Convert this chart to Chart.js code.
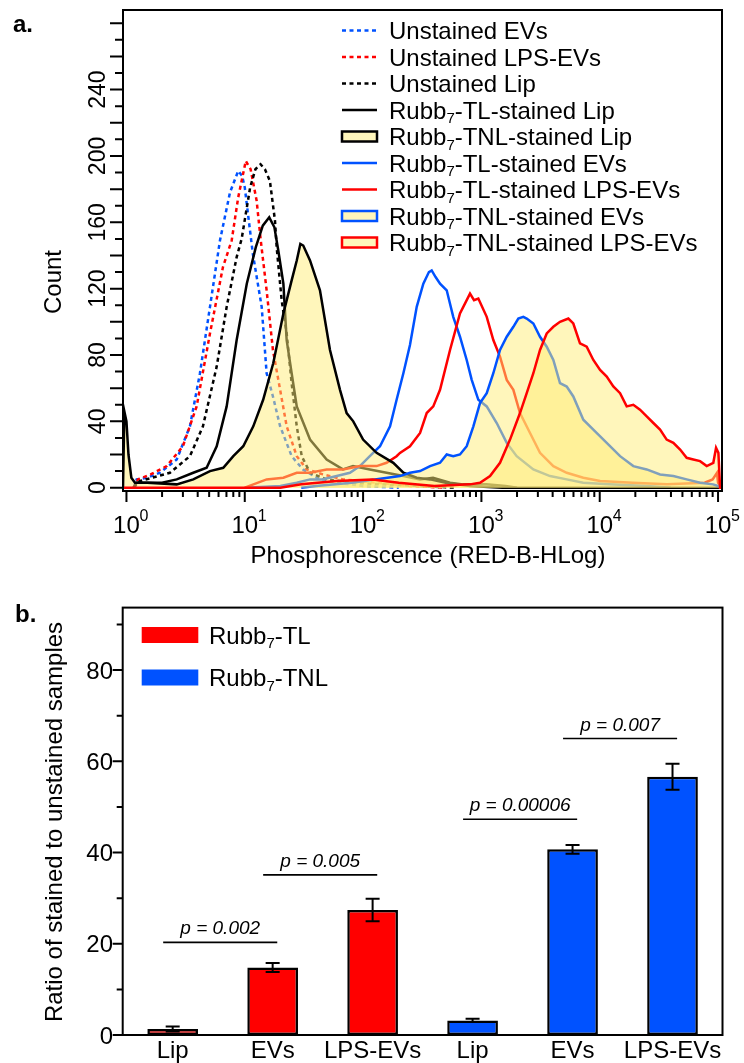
<!DOCTYPE html>
<html lang="en">
<head>
<meta charset="UTF-8">
<title>Rubb7 staining of Lip / EVs / LPS-EVs</title>
<script src="https://cdn.jsdelivr.net/npm/chart.js@4.4.0/dist/chart.umd.min.js"></script>
<style>
*{margin:0;padding:0;box-sizing:border-box}
body{background:#fff;width:744px;height:1063px;overflow:hidden;position:relative}
.cw{position:absolute;left:0;width:744px}
#cwA{top:0;height:580px}
#cwB{top:580px;height:483px}
</style>
</head>
<body>
<div class="cw" id="cwA"><canvas id="histChart"></canvas></div>
<div class="cw" id="cwB"><canvas id="barChart"></canvas></div>
<script>
const FONT = "'Liberation Sans', Arial, Helvetica, sans-serif";
const BLUE = "#0052ff", RED = "#ff0000", BLACK = "#000000";
const YELLOW_FILL = "rgba(255,238,120,0.5)";

// ---- panel a: histogram traces, [phosphorescence, count] ----
const unstainedEVs = [[1.15,0],[1.22,5],[1.5,6],[1.92,9],[2.66,17],[3.44,37],[4.18,69],[5.08,109],[6.17,149],[7.5,178],[8.8,191],[9.5,188],[10.0,181],[11.7,141],[13.9,109],[15.3,69],[17.3,55],[19.9,37],[24.9,19],[31,11],[43,5],[60,3],[100,1],[200,0]];
const unstainedLPS = [[1.15,0],[1.25,5],[1.6,8],[2.19,13],[3.0,25],[3.92,49],[5.08,93],[6.54,133],[7.75,149],[8.8,175],[10.2,197],[11.2,192],[12.6,173],[13.6,150],[15.3,119],[17.3,83],[19.9,59],[22.6,37],[27.5,19],[33.4,11],[45.8,8],[67.6,5],[130,3],[250,1],[500,0]];
const unstainedLip = [[1.15,0],[1.3,4],[2.33,9],[3.44,19],[4.43,37],[5.79,73],[7.03,109],[8.54,139],[9.41,150],[11.1,181],[12.3,192],[13.6,195],[14.8,192],[16.3,185],[18.0,161],[18.6,145],[20.5,113],[22.6,93],[24.9,63],[27.5,37],[30.3,19],[35.6,9],[49.2,5],[80,3],[150,2],[300,1],[600,0]];
const tlLip = [[1.15,0],[1.22,3],[2.0,3],[2.66,5],[3.67,9],[4.76,12],[5.79,25],[7.03,49],[8.54,89],[10.4,123],[12.4,145],[14.2,158],[16.1,163],[17.8,157],[19.2,143],[21.2,123],[22.6,89],[24.9,69],[27.5,49],[35.6,29],[49.2,17],[67.6,11],[82.2,13],[114,11],[158,9],[219,7],[303,5],[390,6],[543,3],[700,2],[1100,2],[1600,1],[2000,0]];
const tnlLip = [[0.935,0],[0.96,46],[1.0,40],[1.04,20],[1.1,6],[1.18,3],[1.5,3],[2.66,2],[3.67,5],[5.08,10],[6.58,12],[8.0,19],[9.71,25],[11.8,37],[14.3,53],[17.4,75],[21.2,105],[24.9,125],[27.5,137],[29.5,147],[31.2,146],[35.6,137],[43.2,119],[52.5,83],[63.8,59],[72.6,45],[82.6,40],[100,29],[130,21],[180,15],[219,9],[284,6],[368,5],[500,3],[800,1],[1500,0],[108000,0]];
const tlEVs = [[10,0],[20,1],[27.5,3],[35.6,5],[45,5],[59.8,7],[77.4,9],[94,13],[114,19],[139,25],[169,37],[192,53],[219,69],[249,86],[284,109],[323,123],[360,130],[380,131],[410,127],[447,123],[509,119],[578,103],[659,91],[751,77],[828,65],[942,53],[1109,49],[1347,39],[1637,27],[1987,19],[2748,11],[3802,7],[5260,5],[7240,3],[12000,2],[25000,1],[40000,0]];
const tlLPS = [[10,0],[15.3,5],[21.2,6],[27.5,9],[35.6,9],[49.2,11],[67.6,11],[94,13],[130,13],[158,15],[192,19],[205,21],[249,25],[303,33],[345,45],[392,49],[447,59],[543,83],[659,105],[801,117],[866,113],[942,114],[1109,103],[1261,89],[1436,79],[1637,65],[1862,59],[2119,45],[2576,33],[3128,21],[4055,13],[5260,9],[7268,6],[10070,4],[19000,3],[37000,2],[77000,3],[90000,5],[98000,9],[100000,3],[108000,0]];
const tnlEVs = [[30,0],[40,1],[80,3],[126,5],[205,7],[249,9],[303,10],[368,13],[447,15],[509,20],[578,19],[659,20],[751,25],[855,37],[973,51],[1109,57],[1261,69],[1436,83],[1637,91],[1862,97],[2051,102],[2261,103],[2415,102],[2748,99],[3128,91],[3565,85],[4055,77],[4615,63],[5260,61],[5980,55],[7268,41],[8830,35],[11460,27],[14860,19],[19230,13],[24950,11],[32360,8],[41900,7],[54300,5],[70500,3],[90800,2],[100000,1],[108000,0]];
const tnlLPS = [[0.935,0],[20,0],[30,2],[60,4],[120,5],[200,3],[400,1],[800,2],[973,3],[1183,7],[1436,15],[1745,29],[2119,45],[2415,57],[2748,69],[3128,83],[3565,93],[4055,97],[4615,100],[5430,102],[5980,99],[6810,87],[7760,85],[8830,77],[10070,71],[11460,67],[13030,61],[14860,57],[16900,49],[19230,50],[21900,47],[24950,43],[28400,39],[32360,35],[36800,29],[41900,27],[47800,23],[54300,18],[61800,17],[70500,16],[80200,13],[91200,15],[96200,24],[100700,21],[104000,0],[108000,0]];

const countTicks = [0, 40, 80, 120, 160, 200, 240];
const decades = [0, 1, 2, 3, 4, 5];

// legend order = list order; z = drawing order (1 = on top)
const traces = [
  { label: "Unstained EVs", pts: unstainedEVs, color: BLUE, kind: "dot", z: 9 },
  { label: "Unstained LPS-EVs", pts: unstainedLPS, color: RED, kind: "dot", z: 8 },
  { label: "Unstained Lip", pts: unstainedLip, color: BLACK, kind: "dot", z: 7 },
  { label: "Rubb_7-TL-stained Lip", pts: tlLip, color: BLACK, kind: "line", z: 6 },
  { label: "Rubb_7-TNL-stained Lip", pts: tnlLip, color: BLACK, kind: "fill", z: 3 },
  { label: "Rubb_7-TL-stained EVs", pts: tlEVs, color: BLUE, kind: "line", z: 5 },
  { label: "Rubb_7-TL-stained LPS-EVs", pts: tlLPS, color: RED, kind: "line", z: 4 },
  { label: "Rubb_7-TNL-stained EVs", pts: tnlEVs, color: BLUE, kind: "fill", z: 2 },
  { label: "Rubb_7-TNL-stained LPS-EVs", pts: tnlLPS, color: RED, kind: "fill", z: 1 }
];

// ---- panel b: ratio of stained to unstained ----
const sampleNames = ["Lip", "EVs", "LPS-EVs", "Lip", "EVs", "LPS-EVs"];
const tlMean = [1.3, 14.8, 27.4];
const tlErr = [0.55, 1.0, 2.45];
const tnlMean = [3.2, 40.7, 56.6];
const tnlErr = [0.35, 0.95, 2.85];
const ratioTicks = [0, 20, 40, 60, 80];
const pPairs = [[0, 1], [1, 2], [3, 4], [4, 5]];
const pLevels = [20.3, 35.1, 47.3, 65];
const pValues = ["0.002", "0.005", "0.00006", "0.007"];

// text with "_7" style subscripts
function richText(ctx, str, x, y, size, align) {
  const parts = str.split(/_(\d)/);
  let w = 0;
  parts.forEach((t, i) => {
    ctx.font = (i % 2 ? Math.round(size * 0.62) : size) + "px " + FONT;
    w += ctx.measureText(t).width;
  });
  if (align === "center") x -= w / 2;
  ctx.textAlign = "left";
  parts.forEach((t, i) => {
    const sub = i % 2 === 1;
    ctx.font = (sub ? Math.round(size * 0.62) : size) + "px " + FONT;
    ctx.fillText(t, x, sub ? y + size * 0.2 : y);
    x += ctx.measureText(t).width;
  });
}

const histAxes = {
  id: "histAxes",
  afterDraw(chart) {
    const { ctx, chartArea: a, scales: { x, y } } = chart;
    ctx.save();
    ctx.strokeStyle = "#000";
    ctx.fillStyle = "#000";
    ctx.lineWidth = 2;
    ctx.strokeRect(a.left, a.top, a.right - a.left, a.bottom - a.top);
    // y ticks: minor every 10, long every 20, labels every 40
    ctx.beginPath();
    for (let v = 0; v <= 280; v += 10) {
      const py = y.getPixelForValue(v);
      ctx.moveTo(a.left, py);
      ctx.lineTo(a.left - (v % 20 === 0 ? 13 : 8), py);
    }
    // x ticks: decades + 2..9
    decades.forEach(d => {
      for (let m = 1; m <= 9; m++) {
        const v = m * Math.pow(10, d);
        if (v > x.max) break;
        const px = x.getPixelForValue(v);
        ctx.moveTo(px, a.bottom);
        ctx.lineTo(px, a.bottom + (m === 1 ? 11 : 6));
      }
    });
    ctx.stroke();
    // rotated count labels
    ctx.font = "23px " + FONT;
    ctx.textAlign = "center";
    ctx.textBaseline = "alphabetic";
    countTicks.forEach(v => {
      ctx.save();
      ctx.translate(105, y.getPixelForValue(v));
      ctx.rotate(-Math.PI / 2);
      ctx.fillText(String(v), 0, 0);
      ctx.restore();
    });
    // decade labels 10^n
    decades.forEach(d => {
      const px = x.getPixelForValue(Math.pow(10, d));
      ctx.font = "24px " + FONT;
      ctx.textAlign = "center";
      ctx.fillText("10", px, 533);
      ctx.font = "16px " + FONT;
      ctx.textAlign = "left";
      ctx.fillText(String(d), px + 13, 521);
    });
    // axis titles
    ctx.font = "24px " + FONT;
    ctx.textAlign = "center";
    ctx.fillText("Phosphorescence (RED-B-HLog)", 428, 563);
    ctx.save();
    ctx.translate(61, 282);
    ctx.rotate(-Math.PI / 2);
    ctx.fillText("Count", 0, 0);
    ctx.restore();
    ctx.font = "bold 24px " + FONT;
    ctx.textAlign = "left";
    ctx.fillText("a.", 13, 32);
    // legend
    traces.forEach((t, i) => {
      const cy = 30.5 + 26.5 * i;
      const x0 = 342, x1 = 377;
      ctx.strokeStyle = t.color;
      ctx.lineWidth = 2.5;
      if (t.kind === "fill") {
        ctx.fillStyle = "#fff6bb";
        ctx.fillRect(x0, cy - 5, x1 - x0, 10);
        ctx.strokeRect(x0, cy - 5, x1 - x0, 10);
      } else {
        ctx.setLineDash(t.kind === "dot" ? [4, 3.5] : []);
        ctx.beginPath();
        ctx.moveTo(x0, cy);
        ctx.lineTo(x1, cy);
        ctx.stroke();
        ctx.setLineDash([]);
      }
      ctx.fillStyle = "#000";
      richText(ctx, t.label, 389, cy + 8.5, 24);
    });
    ctx.restore();
  }
};

new Chart(document.getElementById("histChart"), {
  type: "line",
  data: {
    datasets: traces.map(t => ({
      label: t.label.replace("_", ""),
      data: t.pts.map(([x, y]) => ({ x, y })),
      borderColor: t.color,
      borderWidth: 2.5,
      borderDash: t.kind === "dot" ? [4, 3.5] : [],
      backgroundColor: YELLOW_FILL,
      fill: t.kind === "fill" ? "origin" : false,
      pointRadius: 0,
      tension: 0,
      order: t.z
    }))
  },
  options: {
    responsive: true, maintainAspectRatio: false,
    animation: false, devicePixelRatio: 1,
    layout: { padding: { left: 0, right: 22, top: 10, bottom: 0 } },
    plugins: { legend: { display: false }, tooltip: { enabled: false } },
    scales: {
      x: {
        type: "logarithmic", min: 0.935, max: 108000,
        grid: { display: false }, border: { display: false }, ticks: { display: false },
        afterFit: s => { s.height = 89; }
      },
      y: {
        type: "linear", min: -2, max: 288,
        grid: { display: false }, border: { display: false }, ticks: { display: false },
        afterFit: s => { s.width = 123; }
      }
    }
  },
  plugins: [histAxes]
});

const barDecor = {
  id: "barDecor",
  afterDraw(chart) {
    const { ctx, chartArea: a, scales: { x, y } } = chart;
    ctx.save();
    ctx.strokeStyle = "#000";
    ctx.fillStyle = "#000";
    ctx.lineWidth = 2;
    ctx.strokeRect(a.left, a.top, a.right - a.left, a.bottom - a.top);
    ctx.beginPath();
    for (let v = 0; v <= 90; v += 10) {
      const py = y.getPixelForValue(v);
      ctx.moveTo(a.left, py);
      ctx.lineTo(a.left - (v % 20 === 0 ? 10 : 6), py);
    }
    ctx.stroke();
    ctx.font = "24px " + FONT;
    ctx.textAlign = "right";
    ratioTicks.forEach(v => ctx.fillText(String(v), 113, y.getPixelForValue(v) + 8.5));
    ctx.textAlign = "center";
    sampleNames.forEach((n, i) => ctx.fillText(n, x.getPixelForValue(i), a.bottom + 23));
    // error bars
    [[0, tlMean, tlErr], [1, tnlMean, tnlErr]].forEach(([di, means, errs]) => {
      const meta = chart.getDatasetMeta(di);
      means.forEach((m, j) => {
        const bar = meta.data[j + di * 3];
        const hi = y.getPixelForValue(m + errs[j]), lo = y.getPixelForValue(m - errs[j]);
        ctx.beginPath();
        ctx.moveTo(bar.x, hi); ctx.lineTo(bar.x, lo);
        ctx.moveTo(bar.x - 7, hi); ctx.lineTo(bar.x + 7, hi);
        ctx.moveTo(bar.x - 7, lo); ctx.lineTo(bar.x + 7, lo);
        ctx.stroke();
      });
    });
    // significance lines
    ctx.lineWidth = 1.7;
    pPairs.forEach(([i, j], k) => {
      const x0 = x.getPixelForValue(i) - 9.5, x1 = x.getPixelForValue(j) + 4.6;
      const py = y.getPixelForValue(pLevels[k]);
      ctx.beginPath();
      ctx.moveTo(x0, py); ctx.lineTo(x1, py);
      ctx.stroke();
      ctx.font = "italic 19px " + FONT;
      ctx.textAlign = "center";
      ctx.fillText("p = " + pValues[k], (x0 + x1) / 2, py - 8);
    });
    // legend
    [["Rubb_7-TL", RED], ["Rubb_7-TNL", BLUE]].forEach(([lab, col], k) => {
      const cy = 55 + 42.5 * k;
      ctx.fillStyle = col;
      ctx.fillRect(141.7, cy - 8, 56.6, 16);
      ctx.fillStyle = "#000";
      richText(ctx, lab, 209, cy + 8.5, 24);
    });
    // titles
    ctx.font = "24px " + FONT;
    ctx.textAlign = "center";
    ctx.save();
    ctx.translate(62, 242);
    ctx.rotate(-Math.PI / 2);
    ctx.fillText("Ratio of stained to unstained samples", 0, 0);
    ctx.restore();
    ctx.font = "bold 24px " + FONT;
    ctx.textAlign = "left";
    ctx.fillText("b.", 15, 42);
    ctx.restore();
  }
};

const pad3 = (arr, before) => before ? [null, null, null, ...arr] : [...arr, null, null, null];

new Chart(document.getElementById("barChart"), {
  type: "bar",
  data: {
    labels: sampleNames,
    datasets: [
      { label: "Rubb7-TL", data: pad3(tlMean, false), backgroundColor: RED },
      { label: "Rubb7-TNL", data: pad3(tnlMean, true), backgroundColor: BLUE }
    ].map(d => Object.assign(d, {
      borderColor: "#000", borderWidth: 2.5, borderSkipped: false,
      barPercentage: 0.507, categoryPercentage: 1, grouped: false
    }))
  },
  options: {
    responsive: true, maintainAspectRatio: false,
    animation: false, devicePixelRatio: 1,
    layout: { padding: { left: 0, right: 21.5, top: 27.6, bottom: 0 } },
    plugins: { legend: { display: false }, tooltip: { enabled: false } },
    scales: {
      x: {
        grid: { display: false }, border: { display: false }, ticks: { display: false },
        afterFit: s => { s.height = 28; }
      },
      y: {
        min: 0, max: 93.7,
        grid: { display: false }, border: { display: false }, ticks: { display: false },
        afterFit: s => { s.width = 122.7; }
      }
    }
  },
  plugins: [barDecor]
});
</script>
</body>
</html>
